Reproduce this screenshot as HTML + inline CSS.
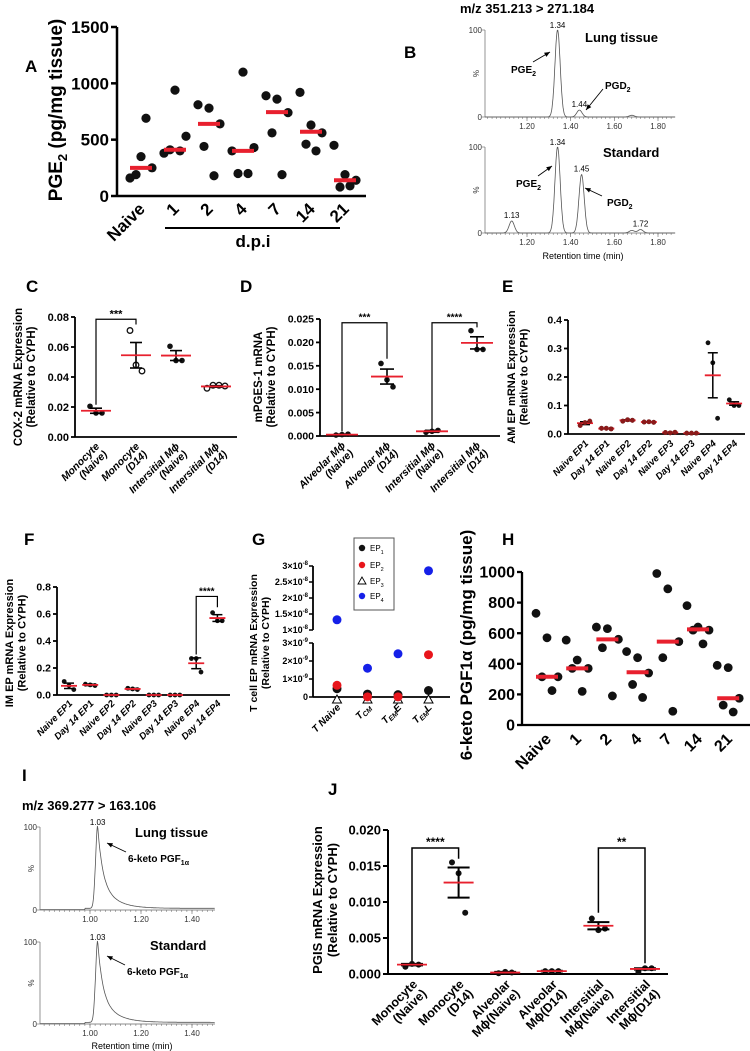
<!DOCTYPE html>
<html><head><meta charset="utf-8">
<style>
html,body{margin:0;padding:0;background:#fff;}
svg{display:block;font-family:"Liberation Sans",Arial,sans-serif;}
</style></head>
<body>
<svg id="fig" width="750" height="1051" viewBox="0 0 750 1051"></svg>
<script>
// ---------- DATA ----------
const aCats=['Naive','1','2','4','7','14','21'];
const aValues=[[160,350,250,190,690],[380,940,530,410,400],[810,780,640,440,180],[400,1100,430,200,200],[890,860,740,560,190],[920,630,560,460,400],[450,190,140,80,90]];
const aMedians=[250,410,640,400,745,570,140];
const aTicks=[0,500,1000,1500];

const bTopTimes=[1.34,1.44,1.68];
const bTopHeights=[100,8,2];
const bBotTimes=[1.13,1.34,1.45,1.68,1.72];
const bBotHeights=[14,100,68,3,4];
const bTicks=[1.20,1.40,1.60,1.80];

const cCats=[['Monocyte','(Naive)'],['Monocyte','(D14)'],['Intersitial Mϕ','(Naive)'],['Intersitial Mϕ','(D14)']];
const cValues=[[0.0205,0.016,0.016],[0.071,0.048,0.044],[0.0605,0.051,0.051],[0.0325,0.0345,0.0345,0.034]];
const cMeans=[0.0175,0.0545,0.0543,0.0337];
const cSem=[0.0017,0.0085,0.0033,0.0005];
const cOpen=[false,true,false,true];
const cTicks=[0,0.02,0.04,0.06,0.08];

const dCats=[['Alveolar Mϕ','(Naive)'],['Alveolar Mϕ','(D14)'],['Intersitial Mϕ','(Naive)'],['Intersitial Mϕ','(D14)']];
const dValues=[[0.0002,0.0003,0.0004],[0.0155,0.012,0.0105],[0.0008,0.001,0.0012],[0.0225,0.0185,0.0185]];
const dMeans=[0.0003,0.0127,0.001,0.0199];
const dSem=[0.0001,0.0016,0.0002,0.0013];
const dTicks=[0,0.005,0.010,0.015,0.020,0.025];

const eCats=['Naive EP1','Day 14 EP1','Naive EP2','Day 14 EP2','Naive EP3','Day 14 EP3','Naive EP4','Day 14 EP4'];
const eValues=[[0.03,0.04,0.045],[0.02,0.02,0.018],[0.045,0.05,0.048],[0.042,0.043,0.041],[0.005,0.004,0.006],[0.003,0.003,0.003],[0.32,0.25,0.055],[0.12,0.10,0.10]];
const eMeans=[0.038,0.019,0.048,0.042,0.005,0.003,0.206,0.107];
const eSem=[0.005,0.001,0.002,0.001,0.001,0.0,0.079,0.006];
const eTicks=[0,0.1,0.2,0.3,0.4];

const fCats=eCats;
const fValues=[[0.1,0.07,0.04],[0.08,0.075,0.07],[0.0,0.0,0.0],[0.05,0.045,0.04],[0,0,0],[0,0,0],[0.27,0.27,0.17],[0.61,0.55,0.55]];
const fMeans=[0.068,0.075,0.0,0.045,0,0,0.235,0.57];
const fSem=[0.02,0.005,0,0.004,0,0,0.04,0.025];
const fTicks=[0,0.2,0.4,0.6,0.8];

const gCats=['T Naive','TCM','TEME','TEML'];
const gEP1=[3.5e-10,0.5e-10,0.2e-10,2.5e-10];
const gEP2=[6.5e-10,0.1e-10,0.1e-10,2.35e-9];
const gEP3=[0,0,0,0];
const gEP4=[1.32e-8,1.6e-9,2.4e-9,2.85e-8];
const gTopTicks=[1e-8,1.5e-8,2e-8,2.5e-8,3e-8];
const gTopLabels=['1','1.5','2','2.5','3'];
const gBotTicks=[0,1e-9,2e-9,3e-9];
const gBotLabels=['0','1','2','3'];

const hCats=['Naive','1','2','4','7','14','21'];
const hValues=[[730,570,315,315,225],[555,425,370,370,220],[640,630,560,505,190],[480,440,340,265,180],[990,890,545,440,90],[780,640,620,620,530],[390,375,175,130,85]];
const hMedians=[315,370,560,345,545,625,175];
const hTicks=[0,200,400,600,800,1000];

const iPeakTime=1.03;
const iPeakHeight=100;
const iTicks=[1.00,1.20,1.40];

const jCats=[['Monocyte','(Naive)'],['Monocyte','(D14)'],['Alveolar','Mϕ(Naive)'],['Alveolar','Mϕ(D14)'],['Intersitial','Mϕ(Naive)'],['Intersitial','Mϕ(D14)']];
const jValues=[[0.001,0.0014,0.0013],[0.0155,0.014,0.0085],[0.0001,0.0003,0.0002],[0.0004,0.0004,0.0004],[0.0077,0.0061,0.0063],[0.0003,0.0008,0.0008]];
const jMeans=[0.0013,0.0127,0.0002,0.0004,0.0067,0.0007];
const jSem=[0.0001,0.0021,0.0001,0.00005,0.0005,0.0001];
const jTicks=[0,0.005,0.010,0.015,0.020];

// ---------- HELPERS ----------
const NS='http://www.w3.org/2000/svg';
const svg=document.getElementById('fig');
const RED='#e8202e';
function add(tag,attrs,parent){const e=document.createElementNS(NS,tag);for(const k in attrs)e.setAttribute(k,attrs[k]);(parent||svg).appendChild(e);return e;}
function lin(v0,v1,p0,p1){return v=>p0+(v-v0)*(p1-p0)/(v1-v0);}
function line(x1,y1,x2,y2,w,col,name,parent){const l=add('line',{x1:x1,y1:y1,x2:x2,y2:y2,stroke:col||'#000','stroke-width':w},parent);


return l;}
function txt(x,y,s,size,opts,name,parent){const o=opts||{};const t=add('text',{x:x,y:y,'font-size':size,'font-weight':o.w||'bold','text-anchor':o.a||'start',fill:o.fill||'#000'},parent);
if(o.italic)t.setAttribute('font-style','italic');
if(o.rot!==undefined)t.setAttribute('transform','rotate('+o.rot+' '+x+' '+y+')');
t.textContent=s;


return t;}
function dot(x,y,r,fill,stroke,name,parent){const c=add('circle',{cx:x,cy:y,r:r,fill:fill,stroke:stroke||'none','stroke-width':1.3},parent);


return c;}
function group(name){const g=add('g',{});


return g;}
function yAxis(g,x,ys,ticks,labels,size,tl,w){line(x,ys(ticks[0]),x,ys(ticks[ticks.length-1]),w,'#000','y-axis-line',g);
ticks.forEach((v,i)=>{line(x-tl,ys(v),x,ys(v),w,'#000','y-tick',g);txt(x-tl-2,ys(v)+size*0.35,labels[i],size,{a:'end'},'y-tick-label',g);});}
function rotLabel(g,x,y,lines,size,italic,name){const t=add('text',{x:x,y:y,'font-size':size,'font-weight':'bold','text-anchor':'end',transform:'rotate(-45 '+x+' '+y+')'},g);
if(italic)t.setAttribute('font-style','italic');
lines.forEach((s,i)=>{const ts=add('tspan',{x:x,dy:i?size*1.05:0},t);ts.textContent=s;});


return t;}
function vTitle(g,x,y,lines,size,name){const t=add('text',{x:x,y:y,'font-size':size,'font-weight':'bold','text-anchor':'middle',transform:'rotate(-90 '+x+' '+y+')'},g);
lines.forEach((s,i)=>{const ts=add('tspan',{x:x,dy:i?size*1.15:0},t);ts.textContent=s;});


return t;}
const jit3=[-6,0,6], jit4=[-9,-3,3,9], jit5=[-11,0,11,-5,5];
function jit(n,i){return (n===3?jit3:n===4?jit4:jit5)[i];}
// mean+sem scatter
function semPanel(g,cx,ys,vals,means,sems,open,r,halfMean,cap,w,sp){
  vals.forEach((arr,i)=>{
    const x=cx(i);
    arr.forEach((v,j)=>{dot(x+jit(arr.length,j)*sp,ys(v),r,open&&open[i]?'#fff':'#111',open&&open[i]?'#111':'none','data-point',g);});
    if(sems[i]>0){line(x,ys(means[i]+sems[i]),x,ys(means[i]-sems[i]),w,'#000','error-bar',g);
      line(x-cap,ys(means[i]+sems[i]),x+cap,ys(means[i]+sems[i]),w,'#000','error-cap-top',g);
      line(x-cap,ys(means[i]-sems[i]),x+cap,ys(means[i]-sems[i]),w,'#000','error-cap-bottom',g);}
    line(x-halfMean,ys(means[i]),x+halfMean,ys(means[i]),1.8,RED,'mean-line',g);
  });
}
function bracket(g,x1,y1,x2,y2,ytop,label,size,w){
  const p=add('path',{d:'M'+x1+' '+y1+'V'+ytop+'H'+x2+'V'+y2,fill:'none',stroke:'#000','stroke-width':w},g);
  
  
  txt((x1+x2)/2,ytop-2,label,size,{a:'middle'},'significance-stars',g);
}

// ---------- PANEL A ----------
(function(){
const g=group('panel-a');
txt(25,72,'A',17,{},'panel-label-a',g);
const ys=lin(0,1500,196,27);
const cx=i=>141+i*34;
yAxis(g,117,ys,aTicks,aTicks.map(String),17,6,2.5);
line(117,196,366,196,2.5,'#000','x-axis-line',g);
aValues.forEach((arr,i)=>{arr.forEach((v,j)=>dot(cx(i)+jit5[j],ys(v),4.6,'#111','none','data-point',g));
 line(cx(i)-11,ys(aMedians[i]),cx(i)+11,ys(aMedians[i]),4,RED,'median-bar',g);
 rotLabel(g,cx(i)+5,210,[aCats[i]],17,false,'x-tick-label');});
line(165,228,340,228,2,'#000','dpi-underline',g);
txt(253,247,'d.p.i',17,{a:'middle'},'x-axis-title',g);
const t=vTitle(g,62,110,['PGE'],19,'y-axis-title');
const s1=add('tspan',{'font-size':13,dy:5},t.firstChild.parentNode);s1.textContent='2';
const s2=add('tspan',{dy:-5},t);s2.textContent=' (pg/mg tissue)';
})();

// ---------- CHROMATOGRAM HELPER ----------
function chrom(g,x0,x1,tx,ys,fn,t0,t1,ticks){
  line(x0,ys(0),x1,ys(0),0.7,'#666','chrom-x-axis',g);
  line(x0,ys(0),x0,ys(100),0.7,'#666','chrom-y-axis',g);
  for(let t=Math.ceil(t0*50)/50;t<=t1;t+=0.02){line(tx(t),ys(0),tx(t),ys(0)+2,0.5,'#666','minor-tick',g);}
  ticks.forEach(t=>{line(tx(t),ys(0),tx(t),ys(0)+4,0.6,'#666','major-tick',g);txt(tx(t),ys(0)+12,t.toFixed(2),8,{a:'middle',w:'normal',fill:'#333'},'chrom-x-tick-label',g);});
  line(x0-3,ys(100),x0,ys(100),0.6,'#666','y-tick',g);line(x0-3,ys(0),x0,ys(0),0.6,'#666','y-tick',g);
  txt(x0-3,ys(100)+3,'100',8,{a:'end',w:'normal',fill:'#333'},'y-tick-label',g);
  txt(x0-3,ys(0)+3,'0',8,{a:'end',w:'normal',fill:'#333'},'y-tick-label',g);
  txt(x0-6,(ys(0)+ys(100))/2,'%',8,{a:'middle',w:'normal',fill:'#333',rot:-90},'y-axis-title',g);
  let d='';
  for(let t=t0;t<=t1;t+=0.002){d+=(d?'L':'M')+tx(t).toFixed(1)+' '+ys(fn(t)).toFixed(1);}
  const p=add('path',{d:d,fill:'none',stroke:'#555','stroke-width':0.8},g);
  
  
}
function arrow(g,x1,y1,x2,y2){line(x1,y1,x2,y2,0.9,'#000','arrow-line',g);
 const a=Math.atan2(y2-y1,x2-x1),L=6;
 const p=add('polygon',{points:x2+','+y2+' '+(x2-L*Math.cos(a-0.4))+','+(y2-L*Math.sin(a-0.4))+' '+(x2-L*Math.cos(a+0.4))+','+(y2-L*Math.sin(a+0.4)),fill:'#000'},g);
 
 }
function sub(t,s,size){const ts=add('tspan',{'font-size':size,dy:3},t);ts.textContent=s;}

// ---------- PANEL B ----------
(function(){
const g=group('panel-b');
txt(460,13,'m/z 351.213 > 271.184',13,{},'chrom-title',g);
txt(404,58,'B',17,{},'panel-label-b',g);
const tx=lin(1.2,1.8,527,658);
const gauss=(times,h,s)=>t=>{let v=0;times.forEach((c,i)=>v+=h[i]*Math.exp(-((t-c)**2)/(2*s*s)));return v;};
const ysT=lin(0,100,117,30), ysB=lin(0,100,233,147);
chrom(g,485,675,tx,ysT,gauss(bTopTimes,bTopHeights,0.012),1.007,1.88,bTicks);
chrom(g,485,675,tx,ysB,gauss(bBotTimes,bBotHeights,0.012),1.007,1.88,bTicks);
txt(tx(1.34),ysT(100)-2,'1.34',8,{a:'middle',w:'normal'},'peak-label',g);
txt(tx(1.44),ysT(bTopHeights[1])-3,'1.44',8,{a:'middle',w:'normal'},'peak-label',g);
txt(tx(1.34),ysB(100)-2,'1.34',8,{a:'middle',w:'normal'},'peak-label',g);
txt(tx(1.45),ysB(bBotHeights[2])-3,'1.45',8,{a:'middle',w:'normal'},'peak-label',g);
txt(tx(1.13),ysB(bBotHeights[0])-3,'1.13',8,{a:'middle',w:'normal'},'peak-label',g);
txt(tx(1.72),ysB(bBotHeights[4])-3,'1.72',8,{a:'middle',w:'normal'},'peak-label',g);
txt(585,42,'Lung tissue',13,{},'trace-title',g);
txt(603,157,'Standard',13,{},'trace-title',g);
let t=txt(511,73,'PGE',10,{},'pge2-label',g);sub(t,'2',7);
arrow(g,533,62,550,52);
t=txt(605,89,'PGD',10,{},'pgd2-label',g);sub(t,'2',7);
arrow(g,603,89,586,110);
t=txt(516,187,'PGE',10,{},'pge2-label',g);sub(t,'2',7);
arrow(g,538,176,552,166);
t=txt(607,206,'PGD',10,{},'pgd2-label',g);sub(t,'2',7);
arrow(g,602,196,585,188);
txt(583,259,'Retention time (min)',9,{a:'middle',w:'normal'},'x-axis-title',g);
})();

// ---------- PANEL C ----------
(function(){
const g=group('panel-c');
txt(26,292,'C',17,{},'panel-label-c',g);
const ys=lin(0,0.08,437,317), cx=i=>96+i*40;
yAxis(g,75,ys,cTicks,cTicks.map(v=>v.toFixed(2)),11,4,1.8);
line(75,437,237,437,1.8,'#000','x-axis-line',g);
semPanel(g,cx,ys,cValues,cMeans,cSem,cOpen,2.8,15,6,1.6,1);
bracket(g,cx(0),ys(0.0215),cx(1),ys(0.075),ys(0.0785),'***',11,1.2);
cCats.forEach((c,i)=>rotLabel(g,cx(i)+4,447,c,10.5,true,'x-tick-label'));
vTitle(g,22,377,['COX-2 mRNA Expression','(Relative to CYPH)'],11.5,'y-axis-title');
})();

// ---------- PANEL D ----------
(function(){
const g=group('panel-d');
txt(240,292,'D',17,{},'panel-label-d',g);
const ys=lin(0,0.025,436,319), cx=i=>342+i*45;
yAxis(g,320,ys,dTicks,dTicks.map(v=>v.toFixed(3)),10.5,4,1.8);
line(320,436,500,436,1.8,'#000','x-axis-line',g);
semPanel(g,cx,ys,dValues,dMeans,dSem,null,2.8,16,7,1.6,1);
bracket(g,cx(0),ys(0.001),cx(1),ys(0.0165),ys(0.0242),'***',10,1.2);
bracket(g,cx(2),ys(0.0015),cx(3),ys(0.0232),ys(0.0242),'****',10,1.2);
dCats.forEach((c,i)=>rotLabel(g,cx(i)+4,446,c,10.5,true,'x-tick-label'));
vTitle(g,262,377,['mPGES-1 mRNA','(Relative to CYPH)'],11.5,'y-axis-title');
})();

// ---------- PANEL E ----------
(function(){
const g=group('panel-e');
txt(502,292,'E',17,{},'panel-label-e',g);
const ys=lin(0,0.4,434,320), cx=i=>585+i*21.3;
yAxis(g,568,ys,eTicks,eTicks.map(v=>v.toFixed(1)),10.5,4,1.8);
line(568,434,745,434,1.8,'#000','x-axis-line',g);
semPanel(g,cx,ys,eValues,eMeans,eSem,null,2.4,8,5,1.5,0.8);
eValues.forEach((a,i)=>{if(i<6){a.forEach((v,j)=>dot(cx(i)+jit3[j]*0.8,ys(v),2.4,'#8b1a1a','none','data-point',g));}});
eCats.forEach((c,i)=>rotLabel(g,cx(i)+4,444,[c],9.5,true,'x-tick-label'));
vTitle(g,515,377,['AM EP mRNA Expression','(Relative to CYPH)'],11,'y-axis-title');
})();

// ---------- PANEL F ----------
(function(){
const g=group('panel-f');
txt(24,545,'F',17,{},'panel-label-f',g);
const ys=lin(0,0.8,695,587), cx=i=>69+i*21.2;
yAxis(g,57,ys,fTicks,fTicks.map(v=>v.toFixed(1)),10.5,4,1.8);
line(57,695,230,695,1.8,'#000','x-axis-line',g);
semPanel(g,cx,ys,fValues,fMeans,fSem,null,2.4,8,5,1.5,0.8);
bracket(g,cx(6),ys(0.3),cx(7),ys(0.65),ys(0.73),'****',10,1.2);
fCats.forEach((c,i)=>rotLabel(g,cx(i)+4,704,[c],9.5,true,'x-tick-label'));
vTitle(g,13,643,['IM EP mRNA Expression','(Relative to CYPH)'],11,'y-axis-title');
})();

// ---------- PANEL G ----------
(function(){
const g=group('panel-g');
txt(252,545,'G',17,{},'panel-label-g',g);
const yt=lin(1e-8,3e-8,630,566), yb=lin(0,3e-9,697,643);
const yv=v=>v>=1e-8?yt(v):yb(v);
const cx=i=>337+i*30.5;
line(313,566,313,630,1.8,'#000','y-axis-top-segment',g);
line(313,643,313,697,1.8,'#000','y-axis-bottom-segment',g);
const lab=(y,m,e)=>{const t=txt(308,y+3,m,9,{a:'end'},'y-tick-label',g);if(e){t.textContent=m+'×10';const s=add('tspan',{'font-size':6,dy:-4},t);s.textContent=e;}};
gTopTicks.forEach((v,i)=>{line(309,yt(v),313,yt(v),1.5,'#000','y-tick',g);lab(yt(v),gTopLabels[i],'-8');});
gBotTicks.forEach((v,i)=>{line(309,yb(v),313,yb(v),1.5,'#000','y-tick',g);lab(yb(v),gBotLabels[i],v?'-9':'');});
line(313,697,450,697,1.8,'#000','x-axis-line',g);
gEP3.forEach((v,i)=>{const y=yv(v)+3;const p=add('polygon',{points:cx(i)+','+(y-5)+' '+(cx(i)-4.5)+','+(y+3)+' '+(cx(i)+4.5)+','+(y+3),fill:'#fff',stroke:'#000','stroke-width':1},g);

});
gEP1.forEach((v,i)=>dot(cx(i),yv(v)-2,4.5,'#111','none','ep1-point',g));
gEP2.forEach((v,i)=>dot(cx(i),yv(v),4.5,'#e8151b','none','ep2-point',g));
gEP4.forEach((v,i)=>dot(cx(i),yv(v),4.5,'#1520e8','none','ep4-point',g));
const xl=[['T Naive'],['T','CM'],['T','EM','E'],['T','EM','L']];
xl.forEach((parts,i)=>{const x=cx(i)+4,y=708;const t=add('text',{x:x,y:y,'font-size':10,'font-weight':'bold','font-style':'italic','text-anchor':'end',transform:'rotate(-45 '+x+' '+y+')'},g);
parts.forEach((s,k)=>{const ts=add('tspan',k===1?{'font-size':7,dy:2}:(k===2?{dy:-2}:{}),t);ts.textContent=s;});

});
const r=add('rect',{x:354,y:538,width:40,height:72,fill:'#fff',stroke:'#555','stroke-width':1},g);


const ly=[548,565,581,596];
dot(362,ly[0],3.2,'#111','none','legend-marker-ep1',g);
dot(362,ly[1],3.2,'#e8151b','none','legend-marker-ep2',g);
const tri=add('polygon',{points:'362,'+(ly[2]-4)+' 358,'+(ly[2]+3)+' 366,'+(ly[2]+3),fill:'#fff',stroke:'#000','stroke-width':0.9},g);


dot(362,ly[3],3.2,'#1520e8','none','legend-marker-ep4',g);
['1','2','3','4'].forEach((n,i)=>{const t=txt(370,ly[i]+3,'EP',8,{w:'normal'},'legend-entry',g);sub(t,n,5.5);});
vTitle(g,257,643,['T cell EP mRNA Expression','(Relative to CYPH)'],10.5,'y-axis-title');
})();

// ---------- PANEL H ----------
(function(){
const g=group('panel-h');
txt(502,545,'H',17,{},'panel-label-h',g);
const ys=lin(0,1000,725,572), cx=i=>547+i*30.2;
yAxis(g,522,ys,hTicks,hTicks.map(String),16,5,2.3);
line(522,725,750,725,2.3,'#000','x-axis-line',g);
hValues.forEach((arr,i)=>{arr.forEach((v,j)=>dot(cx(i)+jit5[j],ys(v),4.4,'#111','none','data-point',g));
 line(cx(i)-11,ys(hMedians[i]),cx(i)+11,ys(hMedians[i]),4,RED,'median-bar',g);
 rotLabel(g,cx(i)+5,740,[hCats[i]],16,false,'x-tick-label');});
vTitle(g,472,645,['6-keto PGF1α (pg/mg tissue)'],17,'y-axis-title');
})();

// ---------- PANEL I ----------
(function(){
const g=group('panel-i');
txt(22,781,'I',17,{},'panel-label-i',g);
txt(22,810,'m/z 369.277 > 163.106',13,{},'chrom-title',g);
const tx=lin(1.0,1.2,90,141);
const fn=t=>{const d=t-iPeakTime;let v=d<0?iPeakHeight*Math.exp(-(d*d)/(2*0.008*0.008)):iPeakHeight*(0.62*Math.exp(-d/0.018)+0.38*Math.exp(-d/0.055));return v+(t>0.98?2:0.5);};
const ysT=lin(0,100,910,827), ysB=lin(0,100,1024,942);
chrom(g,40,215,tx,ysT,fn,0.805,1.49,iTicks);
chrom(g,40,215,tx,ysB,fn,0.805,1.49,iTicks);
txt(tx(1.03),ysT(100)-2,'1.03',8,{a:'middle',w:'normal'},'peak-label',g);
txt(tx(1.03),ysB(100)-2,'1.03',8,{a:'middle',w:'normal'},'peak-label',g);
txt(135,837,'Lung tissue',13,{},'trace-title',g);
txt(150,950,'Standard',13,{},'trace-title',g);
let t=txt(128,862,'6-keto PGF',10,{},'analyte-label',g);sub(t,'1α',7);
arrow(g,126,852,107,843);
t=txt(127,975,'6-keto PGF',10,{},'analyte-label',g);sub(t,'1α',7);
arrow(g,125,965,107,956);
txt(132,1049,'Retention time (min)',9,{a:'middle',w:'normal'},'x-axis-title',g);
})();

// ---------- PANEL J ----------
(function(){
const g=group('panel-j');
txt(328,795,'J',17,{},'panel-label-j',g);
const ys=lin(0,0.02,974,830), cx=i=>412+i*46.6;
yAxis(g,388,ys,jTicks,jTicks.map(v=>v.toFixed(3)),13,5,2);
line(388,974,668,974,2,'#000','x-axis-line',g);
semPanel(g,cx,ys,jValues,jMeans,jSem,null,3,15,11,2,1.1);
bracket(g,cx(0),ys(0.0018),cx(1),ys(0.016),ys(0.0175),'****',12,1.5);
bracket(g,cx(4),ys(0.0085),cx(5),ys(0.0015),ys(0.0175),'**',12,1.5);
jCats.forEach((c,i)=>rotLabel(g,cx(i)+6,985,c,12.5,false,'x-tick-label'));
vTitle(g,322,900,['PGIS mRNA Expression','(Relative to CYPH)'],13,'y-axis-title');
})();
</script>
</body></html>
